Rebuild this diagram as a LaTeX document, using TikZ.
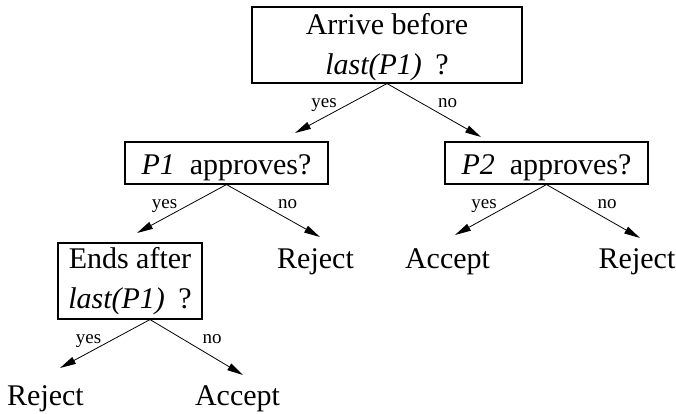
\documentclass[tikz,border=0pt]{standalone}
\usepackage{fontspec}
\setmainfont{Liberation Serif}
\usetikzlibrary{arrows.meta}
\begin{document}
\begin{tikzpicture}[x=1pt,y=-1pt,
  box/.style={draw,line width=1.1pt,inner sep=0pt,font=\fontsize{30}{40}\selectfont,align=center},
  leaf/.style={anchor=base,inner sep=0pt,font=\fontsize{30}{36}\selectfont},
  lbl/.style={anchor=base,inner sep=0pt,font=\fontsize{19}{22}\selectfont},
  arr/.style={line width=0.8pt,-{Triangle[length=16pt,width=7.5pt]}}]
\useasboundingbox (0,0) rectangle (676,414);
% decision boxes
\node[box,minimum width=270pt,minimum height=76pt,text height=62pt,text depth=2pt] (q1) at (387,45)
  {Arrive before\\\textit{last(P1)}\hspace{0.45em}?};
\node[box,minimum width=203pt,minimum height=42pt,text height=27pt,text depth=3pt] (p1) at (226.5,163)
  {\textit{P1}\hspace{0.5em}approves?};
\node[box,minimum width=203pt,minimum height=42pt,text height=27pt,text depth=3pt] (p2) at (546.5,163)
  {\textit{P2}\hspace{0.5em}approves?};
\node[box,minimum width=144pt,minimum height=76pt,text height=62pt,text depth=8pt] (e1) at (130,281)
  {Ends after\\\textit{last(P1)}\hspace{0.45em}?};
% leaves
\node[leaf] (r1) at (315.5,268) {Reject};
\node[leaf] (a1) at (447.5,268) {Accept};
\node[leaf] (r2) at (637,268) {Reject};
\node[leaf] (r3) at (45.5,405) {Reject};
\node[leaf] (a3) at (237.5,405) {Accept};
% arrow tips
\coordinate (t1) at (295,133);
\coordinate (t2) at (481,137);
\coordinate (t3) at (137,233);
\coordinate (t4) at (320,237);
\coordinate (t5) at (455,235);
\coordinate (t6) at (640,238);
\coordinate (t7) at (60,368);
\coordinate (t8) at (243,375);
\coordinate (e1s) at ([xshift=20pt]e1.south);
% connectors
\draw[arr] (q1.south) -- (t1);
\draw[arr] (q1.south) -- (t2);
\draw[arr] (p1.south) -- (t3);
\draw[arr] (p1.south) -- (t4);
\draw[arr] (p2.south) -- (t5);
\draw[arr] (p2.south) -- (t6);
\draw[arr] (e1s) -- (t7);
\draw[arr] (e1s) -- (t8);
% labels
\node[lbl] (l1) at (324,108) {yes};
\node[lbl] (l2) at (447.5,108) {no};
\node[lbl] (l3) at (164.5,208) {yes};
\node[lbl] (l4) at (287.5,208) {no};
\node[lbl] (l5) at (484,208) {yes};
\node[lbl] (l6) at (607,208) {no};
\node[lbl] (l7) at (88.5,343) {yes};
\node[lbl] (l8) at (212,343) {no};
\end{tikzpicture}
\end{document}
